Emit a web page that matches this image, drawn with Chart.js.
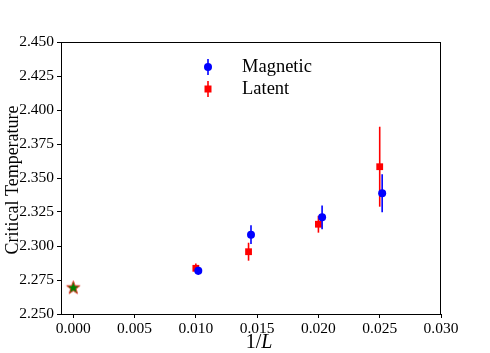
<!DOCTYPE html>
<html lang="en">
<head>
<meta charset="UTF-8" />
<title>Critical Temperature vs 1/L</title>
<script src="https://cdn.jsdelivr.net/npm/chart.js@4.4.0/dist/chart.umd.min.js"></script>
<style>
  body { margin: 0; background: #fff; }
  #wrap { width: 490px; height: 353px; }
</style>
</head>
<body>
<div id="wrap"><canvas id="tcChart" width="490" height="353"></canvas></div>
<script>
  // 1/L positions (magnetic points sit a hair to the right of the latent ones)
  const magX = [0.0102, 0.0145, 0.0203, 0.0252];
  const magT = [2.2818, 2.3083, 2.3211, 2.3388];
  const magErr = [0.0030, 0.0069, 0.0087, 0.0140];

  const latX = [0.0100, 0.0143, 0.0200, 0.0250];
  const latT = [2.2836, 2.2958, 2.3160, 2.3583];
  const latErr = [0.0035, 0.0066, 0.0062, 0.0294];

  // exact value at 1/L = 0
  const exactX = [0.0];
  const exactT = [2.2692];

  const xTicks = [0, 0.005, 0.010, 0.015, 0.020, 0.025, 0.030];
  const yTicks = [2.250, 2.275, 2.300, 2.325, 2.350, 2.375, 2.400, 2.425, 2.450];

  const FONT = "'Liberation Serif', 'DejaVu Serif', serif";

  function pts(xs, ys) {
    return xs.map((x, i) => ({ x: x, y: ys[i] }));
  }

  // filled star marker (matplotlib '*')
  function starMarker(r, fill, edge) {
    const c = document.createElement('canvas');
    const s = Math.ceil(r * 2 + 3);
    c.width = s; c.height = s;
    const g = c.getContext('2d');
    g.translate(s / 2, s / 2);
    g.beginPath();
    for (let k = 0; k < 10; k++) {
      const rad = k % 2 === 0 ? r : r * 0.4;
      const a = -Math.PI / 2 + k * Math.PI / 5;
      g.lineTo(rad * Math.cos(a), rad * Math.sin(a));
    }
    g.closePath();
    g.fillStyle = fill;
    g.fill();
    g.lineWidth = 1;
    g.strokeStyle = edge;
    g.stroke();
    return c;
  }

  // vertical error bars, drawn just before each dataset's markers
  const errorBars = {
    id: 'errorBars',
    beforeDatasetDraw(chart, args) {
      const ds = chart.data.datasets[args.index];
      if (!ds.errors) return;
      const ctx = chart.ctx, xs = chart.scales.x, ys = chart.scales.y;
      ctx.save();
      ctx.strokeStyle = ds.borderColor;
      ctx.lineWidth = 1.6;
      ds.data.forEach((p, j) => {
        const px = xs.getPixelForValue(p.x);
        ctx.beginPath();
        ctx.moveTo(px, ys.getPixelForValue(p.y - ds.errors[j]));
        ctx.lineTo(px, ys.getPixelForValue(p.y + ds.errors[j]));
        ctx.stroke();
      });
      ctx.restore();
    }
  };

  // full box, axis titles and the in-plot legend
  const decorations = {
    id: 'decorations',
    afterDraw(chart) {
      const ctx = chart.ctx, a = chart.chartArea;
      ctx.save();
      ctx.strokeStyle = '#000';
      ctx.lineWidth = 1;
      ctx.strokeRect(Math.round(a.left) + 0.5, Math.round(a.top) + 0.5,
        Math.round(a.right - a.left) - 1, Math.round(a.bottom - a.top));

      // x title: 1/L with italic L
      ctx.fillStyle = '#000';
      ctx.textBaseline = 'alphabetic';
      const t1 = '1/';
      ctx.font = 'italic 20px ' + FONT;
      const wL = ctx.measureText('L').width;
      ctx.font = '20px ' + FONT;
      const w1 = ctx.measureText(t1).width;
      const cx = (a.left + a.right) / 2 + 8;
      const x0 = cx - (w1 + wL) / 2;
      ctx.textAlign = 'left';
      ctx.fillText(t1, x0, 348);
      ctx.font = 'italic 20px ' + FONT;
      ctx.fillText('L', x0 + w1, 348);

      // y title
      ctx.save();
      ctx.translate(13, (a.top + a.bottom) / 2 + 2);
      ctx.rotate(-Math.PI / 2);
      ctx.font = '18px ' + FONT;
      ctx.textAlign = 'center';
      ctx.textBaseline = 'middle';
      ctx.fillText('Critical Temperature', 0, 0);
      ctx.restore();

      // legend
      const items = [
        { label: 'Magnetic', color: '#0000ff', shape: 'circle', y: 67 },
        { label: 'Latent', color: '#ff0000', shape: 'square', y: 89 }
      ];
      items.forEach(it => {
        const mx = 208;
        ctx.strokeStyle = it.color;
        ctx.fillStyle = it.color;
        ctx.lineWidth = 1.6;
        ctx.beginPath();
        ctx.moveTo(mx, it.y - 8);
        ctx.lineTo(mx, it.y + 8);
        ctx.stroke();
        ctx.beginPath();
        if (it.shape === 'circle') {
          ctx.arc(mx, it.y, 4, 0, Math.PI * 2);
        } else {
          ctx.rect(mx - 3.5, it.y - 3.5, 7, 7);
        }
        ctx.fill();
        ctx.fillStyle = '#000';
        ctx.font = '18.5px ' + FONT;
        ctx.textAlign = 'left';
        ctx.textBaseline = 'middle';
        ctx.fillText(it.label, 242, it.y);
      });
      ctx.restore();
    }
  };

  const chart = new Chart(document.getElementById('tcChart'), {
    type: 'scatter',
    data: {
      datasets: [
        {
          label: 'Magnetic',
          data: pts(magX, magT),
          errors: magErr,
          borderColor: '#0000ff',
          backgroundColor: '#0000ff',
          pointStyle: 'circle',
          pointRadius: 4,
          pointBorderWidth: 0
        },
        {
          label: 'Latent',
          data: pts(latX, latT),
          errors: latErr,
          borderColor: '#ff0000',
          backgroundColor: '#ff0000',
          pointStyle: 'rect',
          pointRadius: 4.8,
          pointBorderWidth: 0
        },
        {
          label: 'Exact',
          data: pts(exactX, exactT),
          pointStyle: starMarker(7, '#008000', '#e03020'),
          pointRadius: 7
        }
      ]
    },
    options: {
      responsive: false,
      animation: false,
      events: [],
      layout: { padding: { top: 42, right: 49, left: 0, bottom: 0 } },
      plugins: {
        legend: { display: false },
        tooltip: { enabled: false }
      },
      scales: {
        x: {
          type: 'linear',
          min: -0.001,
          max: 0.030,
          afterFit: s => { s.height = 39; },
          afterBuildTicks: s => { s.ticks = xTicks.map(v => ({ value: v })); },
          grid: { drawOnChartArea: false, drawTicks: true, tickLength: 4, color: '#000' },
          border: { display: true, color: '#000', width: 1 },
          ticks: {
            color: '#000',
            padding: 2,
            maxRotation: 0,
            font: { family: FONT, size: 15.5 },
            callback: v => v.toFixed(3)
          }
        },
        y: {
          type: 'linear',
          min: 2.250,
          max: 2.450,
          afterFit: s => { s.width = 61; },
          afterBuildTicks: s => { s.ticks = yTicks.map(v => ({ value: v })); },
          grid: { drawOnChartArea: false, drawTicks: true, tickLength: 4, color: '#000' },
          border: { display: true, color: '#000', width: 1 },
          ticks: {
            color: '#000',
            padding: 3,
            font: { family: FONT, size: 15.5 },
            callback: v => v.toFixed(3)
          }
        }
      }
    },
    plugins: [errorBars, decorations]
  });
</script>
</body>
</html>
